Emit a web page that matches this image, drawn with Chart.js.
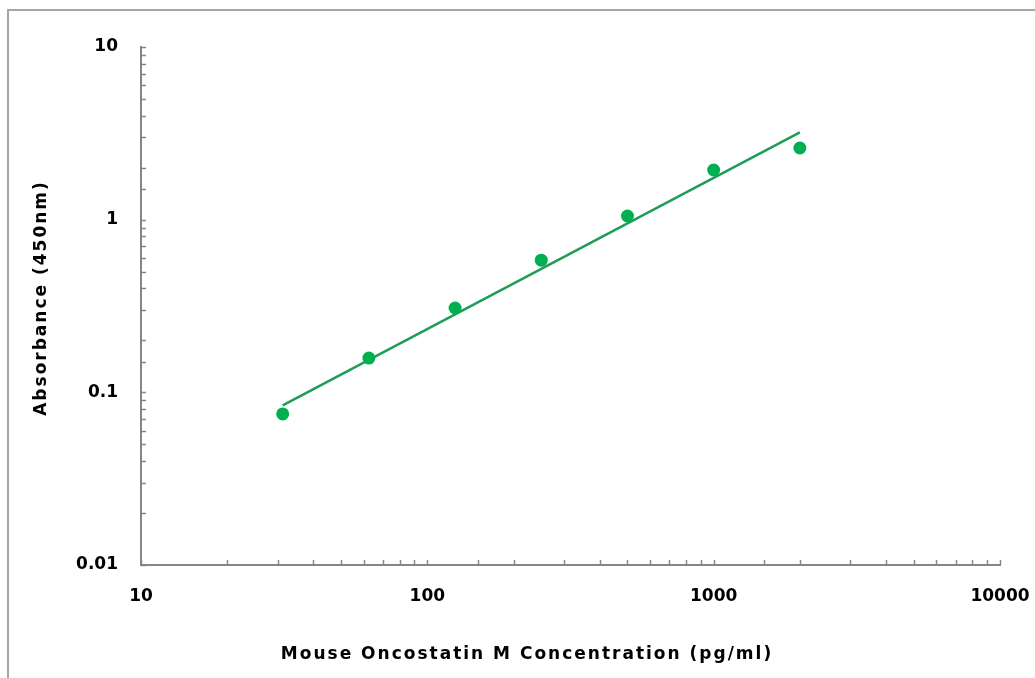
<!DOCTYPE html>
<html>
<head>
<meta charset="utf-8">
<script src="https://cdn.jsdelivr.net/npm/chart.js@4"></script>
<style>
  body { margin: 0; background: #fff; }
  #marco { position: absolute; left: 7px; top: 9px; width: 1100px; height: 720px; border: 2px solid #a6a6a6; }
  #grafico { position: absolute; left: 0; top: 0; }
</style>
</head>
<body>
<div id="marco"></div>
<canvas id="grafico" width="1035" height="678"></canvas>
<script>
// Datos
const concentraciones = [31.25, 62.5, 125, 250, 500, 1000, 2000];
const absorbancias = [0.075, 0.158, 0.308, 0.583, 1.05, 1.94, 2.6];
// Recta de ajuste (extremos)
const ajusteX = [31.25, 2000];
const ajusteY = [0.084, 3.2];
const etiquetasX = [10, 100, 1000, 10000];
const etiquetasY = [0.01, 0.1, 1, 10];
const tituloX = "Mouse Oncostatin M Concentration (pg/ml)";
const tituloY = "Absorbance (450nm)";

const fuente = "'DejaVu Sans', sans-serif";

function etiqueta(lista, v) {
  const e = lista.find(l => Math.abs(v / l - 1) < 1e-6);
  return e === undefined ? "" : String(e);
}

// Marcas menores hacia dentro del área
const marcasInternas = {
  id: "marcasInternas",
  beforeDatasetsDraw(chart) {
    const { ctx, chartArea, scales } = chart;
    ctx.save();
    ctx.strokeStyle = "#868686";
    ctx.lineWidth = 1.5;
    ctx.beginPath();
    scales.x.ticks.forEach(t => {
      const px = Math.round(scales.x.getPixelForValue(t.value)) + 0.5;
      ctx.moveTo(px, chartArea.bottom);
      ctx.lineTo(px, chartArea.bottom - 5);
    });
    scales.y.ticks.forEach(t => {
      const py = Math.round(scales.y.getPixelForValue(t.value)) + 0.5;
      ctx.moveTo(chartArea.left, py);
      ctx.lineTo(chartArea.left + 5, py);
    });
    ctx.stroke();
    ctx.restore();
  }
};

// Títulos de ejes con espaciado de letras
const titulosEjes = {
  id: "titulosEjes",
  afterDraw(chart) {
    const { ctx, chartArea } = chart;
    ctx.save();
    ctx.fillStyle = "#000";
    ctx.font = "bold 17px " + fuente;
    ctx.letterSpacing = "2px";
    ctx.textAlign = "center";
    ctx.textBaseline = "middle";
    ctx.fillText(tituloX, 527, 655);
    ctx.translate(42, (chartArea.top + chartArea.bottom) / 2 - 8);
    ctx.rotate(-Math.PI / 2);
    ctx.fillText(tituloY, 0, 0);
    ctx.restore();
  }
};

const ctx = document.getElementById("grafico").getContext("2d");

new Chart(ctx, {
  type: "scatter",
  data: {
    datasets: [
      {
        label: "Puntos",
        data: concentraciones.map((c, i) => ({ x: c, y: absorbancias[i] })),
        backgroundColor: "#00b050",
        borderWidth: 0,
        pointRadius: 6.5,
        pointHoverRadius: 6.5,
        order: 1
      },
      {
        label: "Ajuste",
        type: "line",
        data: ajusteX.map((c, i) => ({ x: c, y: ajusteY[i] })),
        borderColor: "#1f9c56",
        borderWidth: 2.5,
        pointRadius: 0,
        fill: false,
        order: 2
      }
    ]
  },
  options: {
    responsive: false,
    animation: false,
    events: [],
    layout: { padding: { top: 47, right: 35, left: 0, bottom: 0 } },
    plugins: {
      legend: { display: false },
      tooltip: { enabled: false }
    },
    scales: {
      x: {
        type: "logarithmic",
        min: 10,
        max: 10000,
        grid: { drawOnChartArea: false, drawTicks: false },
        border: { display: true, color: "#868686", width: 2 },
        ticks: {
          autoSkip: false,
          maxRotation: 0,
          padding: 21,
          color: "#000",
          font: { family: fuente, size: 17, weight: "bold" },
          callback: v => etiqueta(etiquetasX, v)
        },
        afterFit: s => {
          s.height = 113;
          s.paddingLeft = 0;
          s.paddingRight = 0;
        }
      },
      y: {
        type: "logarithmic",
        min: 0.01,
        max: 10,
        grid: { drawOnChartArea: false, drawTicks: false },
        border: { display: true, color: "#868686", width: 2 },
        ticks: {
          autoSkip: false,
          padding: 23,
          color: "#000",
          font: { family: fuente, size: 17, weight: "bold" },
          callback: v => etiqueta(etiquetasY, v)
        },
        afterFit: s => {
          s.width = 141;
          s.paddingTop = 0;
          s.paddingBottom = 0;
        }
      }
    }
  },
  plugins: [marcasInternas, titulosEjes]
});
</script>
</body>
</html>
